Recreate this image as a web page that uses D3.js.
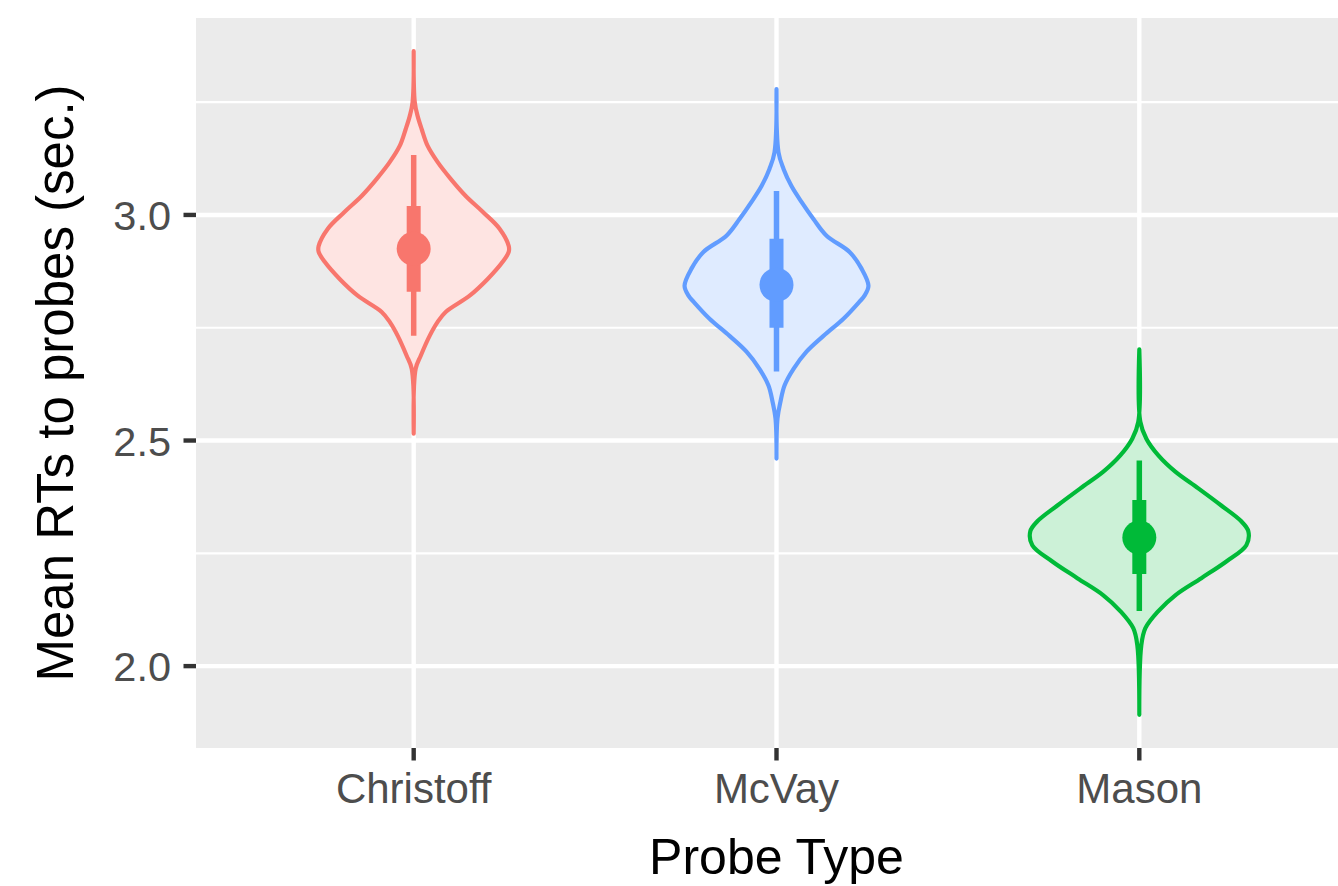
<!DOCTYPE html>
<meta charset="utf-8">
<head>
    <title>Mean RTs to probes by probe type</title>
    <script type="text/javascript" src="https://cdn.jsdelivr.net/npm/d3@7/dist/d3.min.js"></script>
    <style type="text/css">
        body { margin: 0; background: #fff; }
        text { font-family: "Liberation Sans", Arial, Helvetica, sans-serif; }
    </style>
</head>
<body>
    <div id="chart"></div>
    <script>
        // categories on the x axis
        var categories = ["Christoff", "McVay", "Mason"];

        // violin outlines: [RT value, relative density]
        var christoffDensity = [
            [3.363, 0], [3.250, 0.01], [3.219, 0.036], [3.190, 0.073], [3.153, 0.127],
            [3.117, 0.218], [3.080, 0.336], [3.042, 0.473], [3.007, 0.627], [2.969, 0.782],
            [2.931, 0.864], [2.918, 0.864], [2.896, 0.809], [2.858, 0.673], [2.821, 0.509],
            [2.785, 0.291], [2.763, 0.218], [2.732, 0.145], [2.688, 0.064], [2.659, 0.018],
            [2.515, 0]
        ];
        var mcvayDensity = [
            [3.279, 0], [3.139, 0.018], [3.102, 0.064], [3.064, 0.136], [3.029, 0.227],
            [2.991, 0.336], [2.954, 0.455], [2.918, 0.664], [2.881, 0.773], [2.843, 0.836],
            [2.821, 0.8], [2.808, 0.755], [2.770, 0.609], [2.732, 0.427], [2.697, 0.273],
            [2.659, 0.155], [2.622, 0.073], [2.586, 0.036], [2.549, 0.009], [2.460, 0]
        ];
        var masonDensity = [
            [2.702, 0], [2.542, 0.009], [2.504, 0.064], [2.467, 0.173], [2.431, 0.327],
            [2.394, 0.536], [2.356, 0.745], [2.321, 0.927], [2.299, 0.991], [2.268, 0.973],
            [2.232, 0.791], [2.195, 0.564], [2.157, 0.327], [2.122, 0.173], [2.084, 0.055],
            [2.046, 0.018], [1.892, 0]
        ];
        var densities = [christoffDensity, mcvayDensity, masonDensity];

        // summary marks: centre point, inner (thick) interval, outer (thin) interval
        var centers   = [2.925, 2.845, 2.285];
        var innerLow  = [2.830, 2.750, 2.204];
        var innerHigh = [3.020, 2.947, 2.368];
        var outerLow  = [2.732, 2.653, 2.122];
        var outerHigh = [3.133, 3.053, 2.456];

        var yMajor = [2.0, 2.5, 3.0];
        var yMinor = [2.25, 2.75, 3.25];

        var lineColors = ["#F8766D", "#619CFF", "#00BA38"];
        var fillColors = ["#FEE4E2", "#DFEBFF", "#CCF1D7"];

        var width = 1338, height = 886;
        var panel = {left: 196, right: 1357, top: 18, bottom: 748};

        var svg = d3.select("#chart").append("svg")
            .attr("width", width)
            .attr("height", height);

        var x = d3.scalePoint()
            .domain(categories)
            .range([panel.left, panel.right])
            .padding(0.6);

        var y = d3.scaleLinear()
            .domain([1.8185, 3.4365])
            .range([panel.bottom, panel.top]);

        var w = d3.scaleLinear().domain([0, 1]).range([0, 110]);

        // panel background
        svg.append("rect")
            .attr("x", panel.left).attr("y", panel.top)
            .attr("width", panel.right - panel.left)
            .attr("height", panel.bottom - panel.top)
            .attr("fill", "#EBEBEB");

        svg.selectAll(".minor").data(yMinor).enter().append("line")
            .attr("x1", panel.left).attr("x2", panel.right)
            .attr("y1", d => y(d)).attr("y2", d => y(d))
            .attr("stroke", "#fff").attr("stroke-width", 2.2);

        svg.selectAll(".major").data(yMajor).enter().append("line")
            .attr("x1", panel.left).attr("x2", panel.right)
            .attr("y1", d => y(d)).attr("y2", d => y(d))
            .attr("stroke", "#fff").attr("stroke-width", 4.4);

        svg.selectAll(".vmajor").data(categories).enter().append("line")
            .attr("x1", d => x(d)).attr("x2", d => x(d))
            .attr("y1", panel.top).attr("y2", panel.bottom)
            .attr("stroke", "#fff").attr("stroke-width", 4.4);

        // violins
        categories.forEach(function(cat, i) {
            var cx = x(cat);
            var area = d3.area()
                .y(d => y(d[0]))
                .x0(d => cx - w(d[1]))
                .x1(d => cx + w(d[1]))
                .curve(d3.curveCatmullRom);
            svg.append("path")
                .datum(densities[i])
                .attr("d", area)
                .attr("fill", fillColors[i])
                .attr("stroke", lineColors[i])
                .attr("stroke-width", 4.2)
                .attr("stroke-linejoin", "round")
                .attr("stroke-linecap", "round");

            svg.append("line")
                .attr("x1", cx).attr("x2", cx)
                .attr("y1", y(outerLow[i])).attr("y2", y(outerHigh[i]))
                .attr("stroke", lineColors[i]).attr("stroke-width", 5.5);
            svg.append("line")
                .attr("x1", cx).attr("x2", cx)
                .attr("y1", y(innerLow[i])).attr("y2", y(innerHigh[i]))
                .attr("stroke", lineColors[i]).attr("stroke-width", 14);
            svg.append("circle")
                .attr("cx", cx).attr("cy", y(centers[i]))
                .attr("r", 17)
                .attr("fill", lineColors[i]);
        });

        // y axis ticks and labels
        svg.selectAll(".ytick").data(yMajor).enter().append("line")
            .attr("x1", panel.left - 12.5).attr("x2", panel.left)
            .attr("y1", d => y(d)).attr("y2", d => y(d))
            .attr("stroke", "#333333").attr("stroke-width", 4.4);
        svg.selectAll(".ylab").data(yMajor).enter().append("text")
            .attr("x", panel.left - 25)
            .attr("y", d => y(d) + 15)
            .attr("text-anchor", "end")
            .attr("font-size", 41.5)
            .attr("fill", "#4D4D4D")
            .text(d => d3.format(".1f")(d));

        // x axis ticks and labels
        svg.selectAll(".xtick").data(categories).enter().append("line")
            .attr("x1", d => x(d)).attr("x2", d => x(d))
            .attr("y1", panel.bottom).attr("y2", panel.bottom + 12.5)
            .attr("stroke", "#333333").attr("stroke-width", 4.4);
        svg.selectAll(".xlab").data(categories).enter().append("text")
            .attr("x", d => x(d))
            .attr("y", 803)
            .attr("text-anchor", "middle")
            .attr("font-size", 42)
            .attr("fill", "#4D4D4D")
            .text(d => d);

        // axis titles
        svg.append("text")
            .attr("x", (panel.left + panel.right) / 2)
            .attr("y", 874)
            .attr("text-anchor", "middle")
            .attr("font-size", 50)
            .attr("fill", "#000")
            .text("Probe Type");
        svg.append("text")
            .attr("transform", "translate(73," + ((panel.top + panel.bottom) / 2) + ") rotate(-90)")
            .attr("text-anchor", "middle")
            .attr("font-size", 51)
            .attr("fill", "#000")
            .text("Mean RTs to probes (sec.)");
    </script>
</body>
</html>
